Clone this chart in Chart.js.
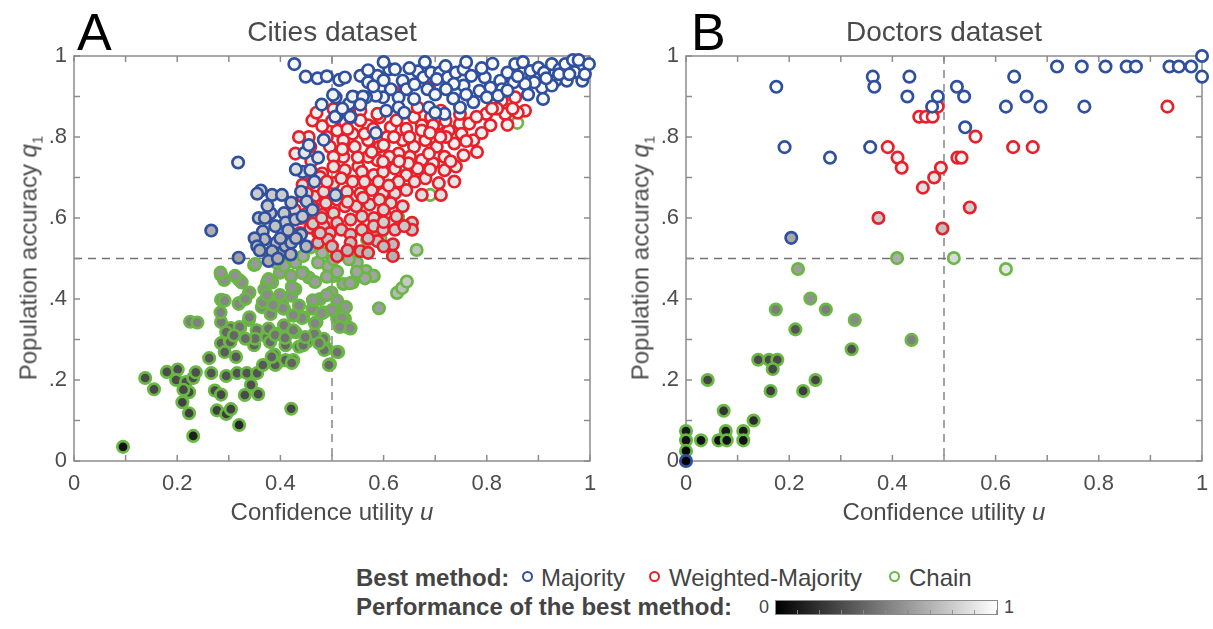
<!DOCTYPE html>
<html>
<head>
<meta charset="utf-8">
<script src="https://cdn.jsdelivr.net/npm/chart.js@4/dist/chart.umd.min.js"></script>
<style>
  html, body { margin: 0; padding: 0; background: #fff; }
  body { width: 1213px; height: 629px; position: relative; overflow: hidden;
         font-family: "Liberation Sans", Arial, Helvetica, sans-serif; color: #4a4a4a; }
  .abs { position: absolute; white-space: nowrap; }
  canvas { position: absolute; top: 0; }
  .letter { font-size: 52px; line-height: 52px; color: #000; }
  .ptitle { font-size: 28px; line-height: 28px; text-align: center; width: 516px; }
  .xtitle { font-size: 24px; line-height: 24px; text-align: center; width: 516px; }
  .ytitle { font-size: 24px; line-height: 24px; text-align: center; width: 405px; height: 24px;
            transform: rotate(-90deg); transform-origin: 50% 50%; }
  .leg { font-size: 24px; line-height: 26px; color: #444; }
  .legb { font-weight: bold; }
  .mk { position: absolute; width: 7px; height: 7px; border-radius: 50%; border: 2.4px solid; background: #fff; }
</style>
</head>
<body>
<canvas id="cities" width="600" height="520" style="left:0px"></canvas>
<canvas id="doctors" width="600" height="520" style="left:612px"></canvas>

<div class="abs letter" style="left:77px; top:6px;">A</div>
<div class="abs letter" style="left:691px; top:6px;">B</div>
<div class="abs ptitle" style="left:74px; top:18px;">Cities dataset</div>
<div class="abs ptitle" style="left:686px; top:18px;">Doctors dataset</div>
<div class="abs xtitle" style="left:74px; top:500px;">Confidence utility <i>u</i></div>
<div class="abs xtitle" style="left:686px; top:500px;">Confidence utility <i>u</i></div>
<div class="abs ytitle" style="left:-174px; top:246px;">Population accuracy <i>q</i><sub style="font-size:15px">1</sub></div>
<div class="abs ytitle" style="left:438px; top:246px;">Population accuracy <i>q</i><sub style="font-size:15px">1</sub></div>

<div class="abs leg legb" style="left:356px; top:565px;">Best method:</div>
<div class="mk" style="left:522px; top:571px; border-color:#2f4f9f;"></div>
<div class="abs leg" style="left:541px; top:565px;">Majority</div>
<div class="mk" style="left:649px; top:571px; border-color:#e8202a;"></div>
<div class="abs leg" style="left:669px; top:565px;">Weighted-Majority</div>
<div class="mk" style="left:889px; top:571px; border-color:#68b843;"></div>
<div class="abs leg" style="left:909px; top:565px;">Chain</div>

<div class="abs leg legb" style="left:356px; top:594px;">Performance of the best method:</div>
<div class="abs" style="left:759px; top:598px; font-size:18px; line-height:18px; color:#444;">0</div>
<div class="abs" style="left:775px; top:600px; width:221px; height:13px; border:1px solid #8a8a8a;
     background: linear-gradient(to right, #000, #fff);"></div>
<div class="abs" style="left:776px; top:610px; width:221px; height:4px;
     background: repeating-linear-gradient(to right, transparent 0px, transparent 21px, rgba(140,140,140,0.9) 21px, rgba(140,140,140,0.9) 22.1px);"></div>
<div class="abs" style="left:1004px; top:598px; font-size:18px; line-height:18px; color:#444;">1</div>

<script>
// ---------------- DATA ----------------
// each entry: [confidence utility u, population accuracy q1, performance of best method]
const citiesMajority = [
[0.427,0.980,0.97],[0.449,0.949,0.97],[0.472,0.945,0.97],[0.490,0.950,0.97],[0.514,0.941,0.97],[0.525,0.947,0.97],[0.555,0.951,0.98],[0.570,0.935,0.97],[0.588,0.951,0.98],[0.611,0.967,0.98],[0.622,0.967,0.98],[0.637,0.939,0.97],[0.666,0.962,0.98],[0.677,0.947,0.98],[0.692,0.959,0.98],[0.709,0.959,0.98],[0.724,0.947,0.98],[0.740,0.959,0.98],[0.755,0.967,0.98],[0.770,0.951,0.98],[0.796,0.947,0.98],[0.811,0.981,0.99],[0.826,0.939,0.98],[0.840,0.959,0.98],[0.855,0.980,0.99],[0.870,0.959,0.98],[0.885,0.963,0.99],[0.900,0.971,0.99],[0.911,0.959,0.99],[0.926,0.980,0.99],[0.941,0.967,0.99],[0.952,0.980,0.99],[0.967,0.990,0.99],[0.978,0.990,0.99],[0.998,0.980,0.99],[0.985,0.939,0.99],[0.955,0.939,0.99],[0.933,0.939,0.99],[0.907,0.922,0.98],[0.892,0.935,0.98],[0.874,0.931,0.98],[0.852,0.935,0.98],[0.829,0.918,0.98],[0.807,0.922,0.98],[0.786,0.914,0.98],[0.755,0.927,0.98],[0.736,0.931,0.97],[0.721,0.918,0.97],[0.703,0.943,0.97],[0.685,0.918,0.97],[0.659,0.894,0.96],[0.644,0.918,0.97],[0.629,0.898,0.96],[0.614,0.918,0.96],[0.599,0.898,0.96],[0.585,0.902,0.96],[0.566,0.898,0.96],[0.544,0.898,0.95],[0.533,0.882,0.95],[0.507,0.898,0.95],[0.509,0.851,0.94],[0.536,0.849,0.94],[0.605,0.865,0.95],[0.629,0.873,0.95],[0.688,0.873,0.96],[0.718,0.857,0.96],[0.748,0.873,0.96],[0.774,0.886,0.97],[0.800,0.898,0.97],[0.822,0.902,0.97],[0.909,0.894,0.98],[0.926,0.927,0.98],
[0.570,0.965,0.98],[0.650,0.970,0.98],[0.720,0.975,0.98],[0.790,0.970,0.98],[0.860,0.950,0.98],[0.940,0.955,0.99],[0.970,0.960,0.99],[0.990,0.955,0.99],[0.502,0.904,0.95],[0.540,0.900,0.95],[0.560,0.900,0.95],[0.506,0.850,0.94],[0.535,0.850,0.94],
[0.480,0.880,0.95],[0.520,0.870,0.95],[0.555,0.880,0.95],[0.580,0.925,0.97],[0.600,0.940,0.97],[0.660,0.930,0.97],[0.700,0.905,0.97],[0.735,0.895,0.97],[0.760,0.905,0.97],[0.840,0.915,0.98],[0.880,0.905,0.98],[0.960,0.955,0.99],[0.915,0.945,0.99],[0.870,0.985,0.99],[0.760,0.985,0.99],[0.680,0.985,0.99],[0.600,0.985,0.99],[0.640,0.860,0.95],[0.700,0.860,0.95],
[0.585,0.810,0.93],[0.484,0.793,0.92],[0.473,0.749,0.90],[0.447,0.761,0.90],[0.443,0.714,0.88],[0.458,0.718,0.88],[0.318,0.737,0.92],[0.362,0.668,0.80],[0.384,0.657,0.79],[0.403,0.657,0.80],[0.421,0.638,0.79],[0.440,0.665,0.81],[0.451,0.641,0.80],[0.358,0.600,0.77],[0.381,0.612,0.78],[0.407,0.612,0.78],[0.410,0.589,0.77],[0.429,0.596,0.77],[0.366,0.567,0.75],[0.369,0.547,0.73],[0.392,0.539,0.73],[0.410,0.531,0.72],[0.384,0.518,0.70],[0.377,0.494,0.68],[0.266,0.569,0.68],[0.319,0.502,0.63],[0.440,0.559,0.75],[0.421,0.539,0.73],[0.443,0.604,0.78],[0.462,0.620,0.79],[0.507,0.657,0.82],[0.466,0.690,0.85],
[0.395,0.500,0.68],[0.420,0.510,0.70],[0.400,0.550,0.73],[0.350,0.550,0.72],[0.355,0.530,0.70],
[0.370,0.600,0.77],[0.390,0.580,0.76],[0.360,0.520,0.70],[0.430,0.550,0.74],[0.450,0.530,0.72],[0.415,0.570,0.75],[0.355,0.660,0.80],[0.375,0.630,0.79],[0.430,0.720,0.87],[0.455,0.780,0.91]
];
const citiesWeighted = [
[0.503,0.869,0.95],[0.536,0.878,0.96],[0.555,0.865,0.95],[0.570,0.829,0.95],[0.592,0.849,0.95],[0.614,0.824,0.95],[0.625,0.841,0.95],[0.640,0.922,0.97],[0.659,0.849,0.96],[0.674,0.829,0.95],[0.692,0.849,0.96],[0.711,0.865,0.96],[0.707,0.833,0.95],[0.726,0.816,0.95],[0.748,0.833,0.96],[0.766,0.833,0.96],[0.751,0.808,0.95],[0.737,0.784,0.94],[0.755,0.755,0.94],[0.781,0.763,0.94],[0.799,0.857,0.96],[0.807,0.829,0.95],[0.829,0.890,0.97],[0.836,0.857,0.96],[0.855,0.898,0.97],[0.874,0.865,0.96],[0.688,0.922,0.97],[0.462,0.841,0.94],[0.481,0.827,0.94],[0.455,0.800,0.93],[0.436,0.800,0.93],[0.429,0.759,0.92],[0.458,0.776,0.92],[0.496,0.776,0.93],[0.522,0.751,0.92],[0.503,0.751,0.92],[0.544,0.776,0.93],[0.570,0.792,0.93],[0.592,0.776,0.93],[0.607,0.800,0.94],[0.637,0.792,0.94],[0.659,0.776,0.93],[0.681,0.792,0.94],[0.703,0.776,0.93],[0.718,0.751,0.93],[0.696,0.735,0.92],[0.674,0.743,0.92],[0.651,0.751,0.92],[0.629,0.759,0.92],[0.611,0.751,0.92],[0.588,0.743,0.92],[0.570,0.751,0.92],[0.551,0.727,0.91],[0.525,0.718,0.90],[0.503,0.727,0.90],[0.481,0.710,0.90],[0.458,0.686,0.88],[0.443,0.682,0.88],[0.443,0.653,0.86],[0.466,0.653,0.86],[0.484,0.665,0.87],[0.503,0.686,0.88],[0.518,0.698,0.89],[0.540,0.690,0.89],[0.558,0.714,0.90],[0.581,0.706,0.90],[0.599,0.714,0.90],[0.622,0.722,0.91],[0.644,0.706,0.90],[0.666,0.722,0.91],[0.681,0.698,0.90],[0.707,0.686,0.90],[0.737,0.690,0.90],[0.711,0.657,0.88],[0.674,0.657,0.88],[0.644,0.669,0.88],[0.622,0.661,0.87],[0.599,0.661,0.87],[0.577,0.669,0.87],[0.555,0.661,0.87],[0.529,0.665,0.87],[0.510,0.645,0.86],[0.488,0.637,0.85],[0.462,0.629,0.84],[0.481,0.608,0.83],[0.503,0.612,0.84],[0.525,0.629,0.85],[0.547,0.629,0.85],[0.573,0.633,0.85],[0.592,0.645,0.86],[0.614,0.637,0.86],[0.637,0.629,0.85],[0.625,0.604,0.83],[0.603,0.608,0.83],[0.581,0.600,0.83],[0.558,0.604,0.83],[0.536,0.596,0.82],[0.510,0.588,0.81],[0.484,0.580,0.80],[0.458,0.576,0.80],[0.473,0.563,0.79],[0.496,0.563,0.79],[0.518,0.571,0.80],[0.536,0.559,0.79],[0.558,0.571,0.80],[0.581,0.580,0.80],[0.599,0.571,0.80],[0.622,0.571,0.80],[0.655,0.588,0.80],[0.655,0.571,0.78],[0.618,0.535,0.74],[0.618,0.506,0.70],[0.555,0.518,0.72],[0.570,0.514,0.72],[0.510,0.506,0.70],[0.473,0.539,0.76],[0.492,0.547,0.77],[0.536,0.539,0.76],[0.588,0.543,0.76],[0.696,0.829,0.95],[0.721,0.800,0.94],[0.674,0.816,0.95],[0.644,0.820,0.95],[0.666,0.873,0.96],[0.748,0.857,0.96],[0.588,0.857,0.95],[0.563,0.808,0.94],[0.540,0.808,0.94],[0.522,0.792,0.93],[0.510,0.816,0.94],[0.525,0.837,0.94],[0.555,0.841,0.95],[0.577,0.763,0.92],[0.740,0.727,0.92],[0.718,0.718,0.91],[0.629,0.690,0.89],[0.648,0.735,0.91],[0.599,0.739,0.92],[0.563,0.690,0.89],[0.688,0.759,0.93],[0.774,0.792,0.94],[0.477,0.701,0.89],[0.451,0.661,0.86],[0.463,0.627,0.84],[0.463,0.586,0.80],[0.477,0.563,0.79],[0.428,0.620,0.83],[0.438,0.563,0.78],
[0.460,0.740,0.91],[0.490,0.690,0.89],[0.530,0.640,0.86],[0.560,0.650,0.86],[0.590,0.690,0.89],[0.610,0.680,0.88],[0.630,0.740,0.92],[0.660,0.690,0.89],[0.690,0.720,0.91],[0.710,0.800,0.94],[0.730,0.740,0.92],[0.760,0.790,0.94],[0.790,0.810,0.94],[0.820,0.870,0.96],[0.840,0.830,0.95],[0.860,0.860,0.96],[0.600,0.780,0.93],[0.620,0.800,0.94],[0.550,0.750,0.92],[0.520,0.770,0.92],[0.490,0.800,0.93],[0.470,0.860,0.95],[0.500,0.840,0.94],[0.530,0.820,0.94],[0.580,0.820,0.94],[0.650,0.800,0.94],[0.690,0.810,0.94],[0.720,0.840,0.95],[0.780,0.850,0.96],[0.810,0.870,0.96],[0.850,0.870,0.96],[0.600,0.620,0.84],[0.570,0.550,0.77],[0.530,0.520,0.73],[0.500,0.530,0.75],[0.600,0.530,0.74],[0.640,0.580,0.79],[0.600,0.590,0.81],[0.480,0.600,0.82],[0.450,0.610,0.82],[0.440,0.600,0.81]
];
const citiesChain = [
[0.095,0.035,0.07],[0.231,0.062,0.12],[0.320,0.089,0.15],[0.421,0.129,0.27],
[0.138,0.205,0.29],[0.155,0.177,0.28],[0.180,0.220,0.30],[0.201,0.226,0.30],[0.198,0.200,0.29],[0.217,0.195,0.30],[0.231,0.205,0.30],[0.236,0.219,0.31],[0.223,0.170,0.28],[0.210,0.145,0.26],[0.223,0.118,0.25],[0.212,0.176,0.28],
[0.225,0.344,0.50],[0.239,0.342,0.50],
[0.262,0.254,0.34],[0.266,0.217,0.32],[0.273,0.174,0.29],[0.285,0.164,0.28],[0.277,0.125,0.25],[0.295,0.116,0.24],[0.304,0.128,0.25],[0.295,0.210,0.32],[0.314,0.257,0.35],[0.316,0.217,0.32],[0.331,0.163,0.29],[0.357,0.165,0.29],[0.343,0.188,0.30],[0.335,0.217,0.33],[0.355,0.217,0.33],[0.366,0.237,0.35],[0.285,0.291,0.38],[0.302,0.296,0.38],[0.322,0.328,0.42],[0.349,0.286,0.38],[0.285,0.343,0.47],[0.285,0.398,0.52],[0.320,0.390,0.52],[0.285,0.459,0.56],[0.291,0.447,0.56],[0.320,0.447,0.56],[0.349,0.484,0.60],[0.339,0.415,0.55],[0.374,0.440,0.58],[0.364,0.380,0.52],[0.339,0.348,0.46],[0.354,0.323,0.44],[0.374,0.306,0.42],[0.304,0.328,0.42],
[0.388,0.263,0.38],[0.393,0.241,0.36],[0.410,0.249,0.37],[0.425,0.249,0.37],[0.410,0.286,0.40],[0.496,0.239,0.38],[0.512,0.269,0.42],[0.490,0.278,0.42],[0.484,0.302,0.45],[0.451,0.294,0.42],[0.436,0.282,0.41],[0.429,0.318,0.44],[0.377,0.327,0.44],[0.351,0.302,0.42],[0.332,0.302,0.41],[0.303,0.294,0.38],[0.295,0.318,0.40],[0.284,0.367,0.50],[0.292,0.396,0.52],[0.319,0.388,0.52],[0.321,0.331,0.45],[0.340,0.355,0.48],[0.340,0.416,0.55],[0.325,0.441,0.56],[0.284,0.465,0.58],[0.312,0.457,0.57],[0.351,0.486,0.60],[0.369,0.424,0.56],[0.384,0.441,0.58],[0.399,0.465,0.60],[0.377,0.449,0.58],[0.366,0.392,0.53],[0.386,0.384,0.53],[0.403,0.392,0.54],[0.381,0.363,0.50],[0.407,0.376,0.52],[0.421,0.408,0.56],[0.429,0.424,0.57],[0.436,0.384,0.53],[0.444,0.355,0.50],[0.425,0.359,0.50],[0.407,0.335,0.47],[0.392,0.314,0.45],[0.380,0.294,0.42],
[0.470,0.343,0.50],[0.466,0.314,0.47],[0.462,0.376,0.54],[0.484,0.367,0.54],[0.477,0.400,0.57],[0.499,0.416,0.60],[0.510,0.396,0.58],[0.522,0.376,0.57],[0.507,0.367,0.55],[0.510,0.351,0.54],[0.525,0.351,0.55],[0.529,0.331,0.53],[0.536,0.327,0.53],[0.522,0.437,0.62],[0.540,0.441,0.63],[0.555,0.457,0.64],[0.581,0.457,0.65],[0.566,0.469,0.65],[0.548,0.490,0.66],[0.533,0.498,0.66],[0.503,0.457,0.62],[0.492,0.482,0.64],[0.473,0.490,0.64],[0.455,0.453,0.60],[0.444,0.465,0.61],[0.421,0.457,0.60],[0.407,0.482,0.62],[0.429,0.490,0.63],[0.392,0.490,0.62],[0.381,0.514,0.64],[0.403,0.510,0.64],[0.421,0.510,0.65],[0.503,0.498,0.66],[0.481,0.514,0.67],[0.458,0.527,0.67],[0.444,0.506,0.65],[0.332,0.400,0.53],[0.310,0.310,0.40],[0.292,0.269,0.36],
[0.591,0.377,0.62],[0.626,0.415,0.72],[0.636,0.427,0.75],[0.645,0.443,0.78],[0.664,0.521,0.76],[0.594,0.549,0.72],[0.568,0.546,0.70],[0.574,0.563,0.72],[0.628,0.602,0.92],[0.690,0.657,0.96],[0.735,0.805,0.98],[0.859,0.835,0.98],
[0.580,0.457,0.64],[0.564,0.451,0.64],[0.548,0.467,0.64],[0.535,0.439,0.62],[0.527,0.380,0.58],[0.519,0.353,0.55],[0.535,0.328,0.53],[0.515,0.331,0.52],[0.510,0.269,0.44],[0.494,0.237,0.40],[0.485,0.274,0.43],[0.475,0.291,0.45],[0.444,0.286,0.43],[0.422,0.242,0.38],[0.390,0.237,0.36],[0.383,0.257,0.38],[0.510,0.467,0.64],[0.490,0.455,0.63],[0.463,0.397,0.58],[0.480,0.365,0.55],[0.467,0.340,0.52],[0.442,0.353,0.52],[0.425,0.360,0.52],[0.405,0.377,0.53],[0.386,0.385,0.53],[0.374,0.410,0.55],[0.399,0.410,0.56],[0.422,0.430,0.58],[0.442,0.464,0.61],[0.467,0.442,0.61],[0.490,0.410,0.60],[0.500,0.373,0.57],[0.390,0.311,0.45],[0.409,0.304,0.44],[0.425,0.323,0.47],[0.448,0.306,0.46]
];

const doctorsMajority = [
[0.175,0.924,1.0],[0.191,0.775,1.0],[0.279,0.749,1.0],[0.357,0.775,1.0],[0.362,0.949,1.0],[0.365,0.924,1.0],[0.429,0.900,1.0],[0.433,0.949,1.0],[0.477,0.875,1.0],[0.488,0.900,1.0],[0.525,0.924,1.0],[0.539,0.900,1.0],[0.541,0.824,1.0],[0.620,0.875,1.0],[0.636,0.949,1.0],[0.660,0.900,1.0],[0.687,0.875,1.0],[0.719,0.974,1.0],[0.767,0.974,1.0],[0.772,0.875,1.0],[0.813,0.974,1.0],[0.854,0.974,1.0],[0.872,0.974,1.0],[0.937,0.974,1.0],[0.955,0.974,1.0],[0.979,0.974,1.0],[1.000,1.000,1.0],[1.000,0.949,1.0],
[0.204,0.551,0.66],[0.000,0.000,0.0]
];
const doctorsWeighted = [
[0.391,0.775,0.97],[0.410,0.749,0.95],[0.418,0.724,0.93],[0.452,0.850,1.0],[0.465,0.850,1.0],[0.478,0.850,1.0],[0.488,0.875,1.0],[0.459,0.675,0.88],[0.481,0.700,0.90],[0.494,0.724,0.92],[0.526,0.749,0.95],[0.534,0.749,0.95],[0.561,0.801,0.98],[0.550,0.626,0.82],[0.373,0.600,0.80],[0.497,0.574,0.75],[0.634,0.775,0.98],[0.672,0.775,0.98],[0.933,0.875,1.0]
];
const doctorsChain = [
[0.409,0.501,0.68],[0.519,0.501,0.85],[0.620,0.474,0.90],[0.217,0.474,0.62],[0.241,0.401,0.57],[0.174,0.374,0.49],[0.271,0.374,0.49],[0.327,0.348,0.54],[0.212,0.325,0.33],[0.437,0.299,0.50],[0.321,0.276,0.31],[0.140,0.250,0.29],[0.161,0.250,0.29],[0.177,0.250,0.29],[0.168,0.227,0.28],[0.042,0.200,0.27],[0.251,0.200,0.27],[0.164,0.173,0.24],[0.227,0.173,0.24],[0.073,0.124,0.20],[0.131,0.100,0.17],[0.000,0.074,0.10],[0.000,0.051,0.07],[0.000,0.025,0.04],[0.029,0.051,0.07],[0.063,0.051,0.07],[0.077,0.074,0.10],[0.079,0.051,0.07],[0.111,0.074,0.10],[0.111,0.051,0.07]
];

const xTickLabels = ['0', '0.2', '0.4', '0.6', '0.8', '1'];
const yTickLabels = ['0', '.2', '.4', '.6', '.8', '1'];
const minorTickValues = [0, 0.1, 0.2, 0.3, 0.4, 0.5, 0.6, 0.7, 0.8, 0.9, 1];
const thresholdU = 0.5;
const thresholdQ = 0.5;

// ---------------- STYLE ----------------
const methodColors = { majority: '#2f4f9f', weighted: '#e8202a', chain: '#68b843' };
const FONT = '"Liberation Sans", Arial, Helvetica, sans-serif';

function gray(p) {
  const g = Math.round(Math.max(0, Math.min(1, p)) * 255);
  return `rgb(${g},${g},${g})`;
}
function ds(label, arr, color) {
  return {
    label,
    data: arr.map(d => ({ x: d[0], y: d[1] })),
    backgroundColor: arr.map(d => gray(d[2])),
    borderColor: color,
    borderWidth: 2.7,
    pointRadius: 5.7,
    pointHoverRadius: 5.7,
    clip: false
  };
}

const panelDecor = {
  id: 'panelDecor',
  beforeDatasetsDraw(chart) {
    const { ctx, chartArea: a, scales: { x, y } } = chart;
    const seg = (x1, y1, x2, y2) => { ctx.beginPath(); ctx.moveTo(x1, y1); ctx.lineTo(x2, y2); ctx.stroke(); };
    ctx.save();
    ctx.strokeStyle = '#737373';
    ctx.lineWidth = 1.3;
    ctx.setLineDash([8, 6]);
    const yq = y.getPixelForValue(thresholdQ);
    const xu = x.getPixelForValue(thresholdU);
    seg(a.left, yq, a.right, yq);
    seg(xu, a.top, xu, a.bottom);
    ctx.setLineDash([]);
    ctx.strokeStyle = '#8c8c8c';
    ctx.lineWidth = 1.5;
    ctx.strokeRect(a.left, a.top, a.right - a.left, a.bottom - a.top);
    const L = 6;
    for (const v of minorTickValues) {
      const px = x.getPixelForValue(v);
      seg(px, a.bottom, px, a.bottom - L);
      seg(px, a.top, px, a.top + L);
      const py = y.getPixelForValue(v);
      seg(a.left, py, a.left + L, py);
      seg(a.right, py, a.right - L, py);
    }
    ctx.restore();
  }
};

function makeChart(id, majority, weighted, chain) {
  return new Chart(document.getElementById(id), {
    type: 'scatter',
    data: {
      datasets: [
        ds('Majority', majority, methodColors.majority),
        ds('Weighted-Majority', weighted, methodColors.weighted),
        ds('Chain', chain, methodColors.chain)
      ]
    },
    options: {
      responsive: false,
      devicePixelRatio: 1,
      animation: false,
      events: [],
      layout: { padding: { left: 0, top: 56, right: 10, bottom: 0 } },
      plugins: { legend: { display: false }, tooltip: { enabled: false } },
      scales: {
        x: {
          type: 'linear', min: 0, max: 1,
          grid: { display: false, drawTicks: false }, border: { display: false },
          afterFit: s => { s.height = 59; s.paddingLeft = 0; s.paddingRight = 0; },
          ticks: {
            stepSize: 0.2, padding: 10, color: '#4d4d4d', maxRotation: 0,
            font: { family: FONT, size: 22 },
            callback: (v, i) => xTickLabels[i]
          }
        },
        y: {
          type: 'linear', min: 0, max: 1,
          grid: { display: false, drawTicks: false }, border: { display: false },
          afterFit: s => { s.width = 74; s.paddingTop = 0; s.paddingBottom = 0; },
          ticks: {
            stepSize: 0.2, padding: 7, color: '#4d4d4d',
            font: { family: FONT, size: 22 },
            callback: (v, i) => yTickLabels[i]
          }
        }
      }
    },
    plugins: [panelDecor]
  });
}

makeChart('cities', citiesMajority, citiesWeighted, citiesChain);
makeChart('doctors', doctorsMajority, doctorsWeighted, doctorsChain);
</script>
</body>
</html>
